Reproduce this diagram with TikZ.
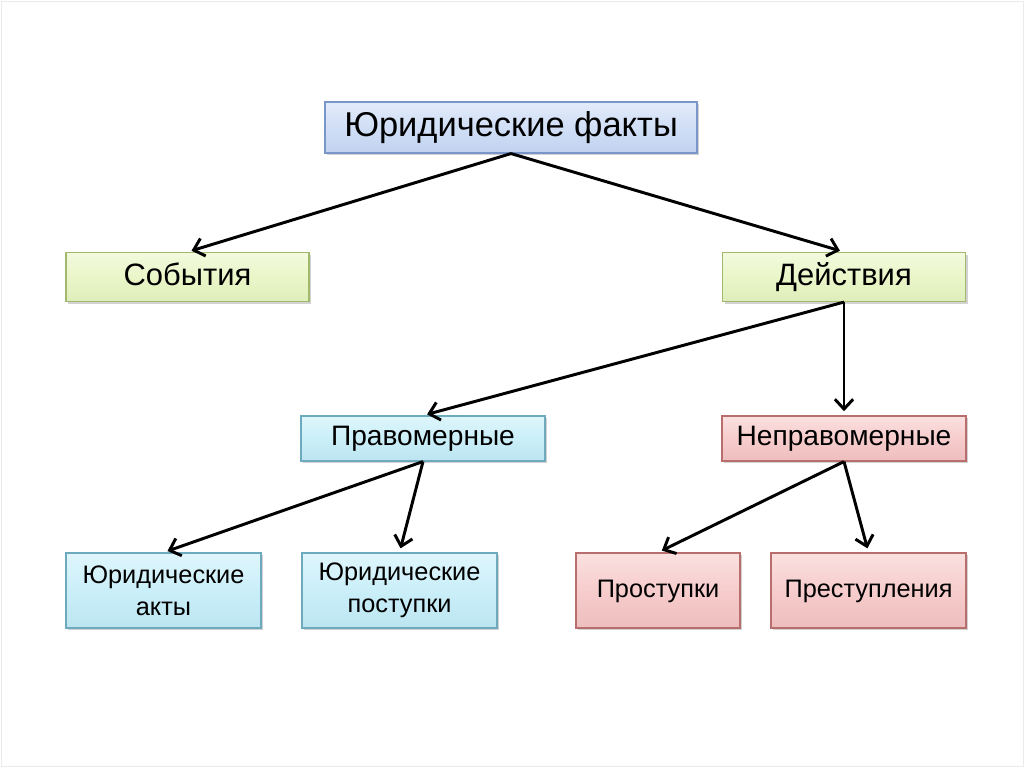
\documentclass[tikz,border=0pt]{standalone}
\usepackage{fontspec}
\setmainfont{Liberation Sans}
\usetikzlibrary{positioning,arrows.meta,shadows}
\definecolor{topfill}{RGB}{208,222,246}
\definecolor{topline}{RGB}{120,150,200}
\definecolor{grnfill}{RGB}{234,246,200}
\definecolor{grnline}{RGB}{160,185,110}
\definecolor{cyanfill}{RGB}{202,239,249}
\definecolor{cyanline}{RGB}{110,170,190}
\definecolor{pinkfill}{RGB}{247,204,204}
\definecolor{pinkline}{RGB}{185,110,110}
\tikzset{
box/.style={draw, line width=0.8pt, align=center, inner sep=0pt,
    drop shadow={shadow xshift=1.5pt,shadow yshift=-1.5pt,fill=black!35}},
oneline/.style={font=\fontsize{#1}{#1}\selectfont, text height={0.72*#1pt}, text depth={0.2*#1pt}},
topbox/.style={box, oneline=24.5, draw=topline, top color=white!40!topfill,
    bottom color=topfill!85!topline, middle color=topfill,
    minimum width=372*0.025cm, minimum height=51*0.025cm},
grnbox/.style={box, oneline=22, draw=grnline, top color=white!40!grnfill,
    bottom color=grnfill!85!grnline, middle color=grnfill,
    minimum width=243*0.025cm, minimum height=49*0.025cm},
cyanbox/.style={box, draw=cyanline, top color=white!40!cyanfill,
    bottom color=cyanfill!85!cyanline, middle color=cyanfill},
pinkbox/.style={box, draw=pinkline, top color=white!40!pinkfill,
    bottom color=pinkfill!85!pinkline, middle color=pinkfill},
midtxt/.style={oneline=20, minimum width=244*0.025cm, minimum height=45*0.025cm},
lowtxt/.style={font=\fontsize{18}{23}\selectfont, minimum height=75*0.025cm},
link/.style={-{Straight Barb[length=7pt,width=13pt]}, line width=2.1pt, shorten >=3pt}
}

\begin{document}
\begin{tikzpicture}[x=0.025cm,y=-0.025cm]
\useasboundingbox (0,0) rectangle (1024,767);
\draw[black!8] (1,1) rectangle (1023,766);

\node[topbox] (facts) at (511,127.5) {Юридические факты};
\node[grnbox] (events) at (187.5,277) {События};
\node[grnbox] (acts) at (844,277) {Действия};
\node[cyanbox,midtxt] (lawful) at (423,438.5) {Правомерные};
\node[pinkbox,midtxt] (unlawful) at (844,438.5) {Неправомерные};
\node[cyanbox,lowtxt,minimum width=195*0.025cm] (legalacts) at (163.5,590.5) {Юридические\\акты};
\node[cyanbox,lowtxt,minimum width=195*0.025cm] (legaldeeds) at (399.5,590.5) {Юридические\\поступки};
\node[pinkbox,lowtxt,oneline=18,minimum width=164*0.025cm] (offences) at (658,590.5) {Проступки};
\node[pinkbox,lowtxt,oneline=18,minimum width=195*0.025cm] (crimes) at (868.5,590.5) {Преступления};

\draw[link] (facts.south) -- (events.north);
\draw[link] (facts.south) -- (acts.north);
\draw[link] (acts.south) -- (lawful.north);
\draw[link] (acts.south) -- (unlawful.north);
\draw[link] (lawful.south) -- (legalacts.north);
\draw[link] (lawful.south) -- (legaldeeds.north);
\draw[link] (unlawful.south) -- (offences.north);
\draw[link] (unlawful.south) -- (crimes.north);
\end{tikzpicture}
\end{document}
